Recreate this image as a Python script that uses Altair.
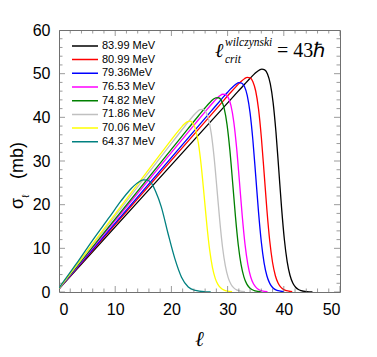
import altair as alt
import pandas as pd

energies = ["83.99 MeV", "80.99 MeV", "79.36MeV", "76.53 MeV",
            "74.82 MeV", "71.86 MeV", "70.06 MeV", "64.37 MeV"]
colors = ["#000000", "#ff0000", "#0000ff", "#ff00ff",
          "#008000", "#c0c0c0", "#ffff00", "#008080"]

l_8399 = [0, 31.1, 33.1, 34.1, 34.6, 35.1, 35.6, 36.1, 36.6, 37.1, 37.6, 38.1, 38.6, 39.1, 39.6, 40.1, 40.6, 41.1, 41.6, 42.1, 42.6, 43.1, 44.1, 45.1]
s_8399 = [0.71, 44.86, 47.70, 49.07, 49.72, 50.31, 50.79, 51.04, 50.87, 49.92, 47.65, 43.38, 36.69, 28.12, 19.32, 12.03, 6.96, 3.84, 2.06, 1.09, 0.57, 0.30, 0.08, 0.02]

l_8099 = [0, 28.5, 30.5, 31.5, 32.0, 32.5, 33.0, 33.5, 34.0, 34.5, 35.0, 35.5, 36.0, 36.5, 37.0, 37.5, 38.0, 38.5, 39.0, 39.5, 40.0, 40.5, 41.5]
s_8099 = [0.74, 42.69, 45.62, 47.04, 47.72, 48.34, 48.85, 49.15, 49.03, 48.17, 46.03, 41.94, 35.50, 27.23, 18.73, 11.67, 6.76, 3.73, 2.00, 1.06, 0.55, 0.29, 0.08]

l_7936 = [0, 27.0, 29.0, 30.0, 30.5, 31.0, 31.5, 32.0, 32.5, 33.0, 33.5, 34.0, 34.5, 35.0, 35.5, 36.0, 36.5, 37.0, 37.5, 38.0, 38.5, 39.0, 40.0]
s_7936 = [0.75, 41.31, 44.29, 45.75, 46.45, 47.08, 47.61, 47.94, 47.86, 47.05, 44.98, 41.01, 34.74, 26.66, 18.34, 11.44, 6.62, 3.66, 1.97, 1.04, 0.54, 0.29, 0.08]

l_7653 = [0, 24.1, 26.1, 27.1, 27.6, 28.1, 28.6, 29.1, 29.6, 30.1, 30.6, 31.1, 31.6, 32.1, 32.6, 33.1, 33.6, 34.1, 34.6, 35.1, 35.6, 36.1, 37.1]
s_7653 = [0.78, 38.33, 41.43, 42.95, 43.67, 44.35, 44.92, 45.29, 45.28, 44.57, 42.68, 38.96, 33.05, 25.40, 17.49, 10.92, 6.33, 3.50, 1.88, 1.00, 0.52, 0.27, 0.07]

l_7482 = [0, 22.9, 24.9, 25.9, 26.4, 26.9, 27.4, 27.9, 28.4, 28.9, 29.4, 29.9, 30.4, 30.9, 31.4, 31.9, 32.4, 32.9, 33.4, 33.9, 34.4, 34.9, 35.9]
s_7482 = [0.80, 37.30, 40.48, 42.03, 42.77, 43.47, 44.06, 44.46, 44.48, 43.82, 41.98, 38.35, 32.54, 25.03, 17.25, 10.77, 6.25, 3.46, 1.86, 0.99, 0.52, 0.27, 0.07]

l_7186 = [0, 20.1, 22.1, 23.1, 23.6, 24.1, 24.6, 25.1, 25.6, 26.1, 26.6, 27.1, 27.6, 28.1, 28.6, 29.1, 29.6, 30.1, 30.6, 31.1, 31.6, 32.1, 33.1]
s_7186 = [0.83, 34.20, 37.50, 39.13, 39.91, 40.64, 41.28, 41.74, 41.84, 41.29, 39.63, 36.26, 30.82, 23.74, 16.39, 10.25, 5.96, 3.30, 1.78, 0.94, 0.50, 0.26, 0.07]

l_7006 = [0, 17.8, 19.8, 20.8, 21.3, 21.8, 22.3, 22.8, 23.3, 23.8, 24.3, 24.8, 25.3, 25.8, 26.3, 26.8, 27.3, 27.8, 28.3, 28.8, 29.3, 29.8, 30.8]
s_7006 = [0.85, 31.15, 34.54, 36.20, 37.01, 37.77, 38.45, 38.95, 39.11, 38.67, 37.18, 34.08, 29.01, 22.38, 15.47, 9.69, 5.64, 3.13, 1.69, 0.90, 0.47, 0.25, 0.07]

l_6437 = [0, 3, 6, 9, 11, 12.5, 14, 15, 15.8, 16.5, 17.2, 18.2, 19.4, 20.6, 21.8, 23.0, 24.3, 26.0, 27.0]
s_6437 = [0.93, 6.3, 11.9, 17.2, 20.8, 23.2, 25.0, 25.7, 25.6, 24.8, 23.0, 19.5, 13.4, 7.7, 3.4, 1.15, 0.35, 0.05, 0.0]

x_major = [0, 10, 20, 30, 40, 50]
x_minor = [2, 4, 6, 8, 12, 14, 16, 18, 22, 24, 26, 28, 32, 34, 36, 38, 42, 44, 46, 48]
y_major = [0, 10, 20, 30, 40, 50, 60]
y_minor = [2, 4, 6, 8, 12, 14, 16, 18, 22, 24, 26, 28, 32, 34, 36, 38, 42, 44, 46, 48, 52, 54, 56, 58]

l_lists = [l_8399, l_8099, l_7936, l_7653, l_7482, l_7186, l_7006, l_6437]
s_lists = [s_8399, s_8099, s_7936, s_7653, s_7482, s_7186, s_7006, s_6437]

rows = []
for k, (name, ls, ss) in enumerate(zip(energies, l_lists, s_lists)):
    for l, s in zip(ls, ss):
        rows.append({"E": name, "l": l, "s": s, "k": k})
df = pd.DataFrame(rows)

W, H = 281, 262
xs = alt.Scale(domain=[0, 50], nice=False, zero=False)
ys = alt.Scale(domain=[0, 60], nice=False)
FRAME = "#707070"

x_axis = alt.Axis(values=x_major, title=None, ticks=False, domain=False, grid=False,
                  labelFontSize=16, labelFont="Liberation Sans", labelColor="black", labelPadding=9)
y_axis = alt.Axis(values=y_major, title=None, ticks=False, domain=False, grid=False,
                  labelFontSize=16, labelFont="Liberation Sans", labelColor="black", labelPadding=9)

lines = alt.Chart(df).mark_line(strokeWidth=1.3, interpolate="monotone", clip=True).encode(
    x=alt.X("l:Q", scale=xs, axis=x_axis),
    y=alt.Y("s:Q", scale=ys, axis=y_axis),
    color=alt.Color("E:N", scale=alt.Scale(domain=energies, range=colors), sort=energies,
                    legend=alt.Legend(title=None, orient="none", legendX=12, legendY=10,
                                      symbolType="stroke", symbolSize=676, symbolStrokeWidth=1.5,
                                      labelFontSize=11, labelFont="Liberation Sans", labelColor="black",
                                      clipHeight=11.8, rowPadding=0.7, labelOffset=3, padding=0)),
    order=alt.Order("k:Q"),
)

xt = pd.DataFrame({"pos": x_major + x_minor, "len": [12] * len(x_major) + [7] * len(x_minor)})
yt = pd.DataFrame({"pos": y_major + y_minor, "len": [12] * len(y_major) + [7] * len(y_minor)})

def xticks(yval):
    return alt.Chart(xt).mark_tick(clip=True, color=FRAME, thickness=1).encode(
        x=alt.X("pos:Q", scale=xs, axis=x_axis), y=alt.value(yval), size=alt.Size("len:Q", scale=None))

def yticks(xval):
    return alt.Chart(yt).mark_tick(clip=True, color=FRAME, thickness=1).encode(
        y=alt.Y("pos:Q", scale=ys, axis=y_axis), x=alt.value(xval), size=alt.Size("len:Q", scale=None))

one = pd.DataFrame({"a": [0]})

def txt(t, x, y, size, font="Liberation Serif", style="normal", weight="normal", angle=0, align="left"):
    return alt.Chart(one).mark_text(text=t, font=font, fontSize=size, fontStyle=style, fontWeight=weight,
                                    angle=angle, align=align, baseline="alphabetic", color="black").encode(
        x=alt.value(x), y=alt.value(y))

texts = [
    txt("ℓ", 156, 27, 20, style="italic"),
    txt("wilczynski", 166, 16, 11.5, style="italic"),
    txt("crit", 166, 33, 11.5, style="italic"),
    txt("= 43ℏ", 218, 27, 20),
    txt("σ", -36, 179, 18, font="Liberation Sans", angle=270),
    txt("ℓ", -30, 168, 10, font="Liberation Sans", angle=270),
    txt("(mb)", -36, 149, 18, font="Liberation Sans", angle=270),
    txt("ℓ", 141, 316, 21, font="DejaVu Serif", style="italic", weight="bold", align="center"),
]

chart = alt.layer(
    lines, xticks(H), xticks(0), yticks(0), yticks(W), *texts
).properties(
    width=W, height=H,
    padding={"left": 51, "top": 22, "right": 20, "bottom": 65},
    autosize=alt.AutoSizeParams(type="none"),
).configure_view(stroke=FRAME, strokeWidth=1)

chart.save("out.html", embed_options={"renderer": "svg", "actions": False})
